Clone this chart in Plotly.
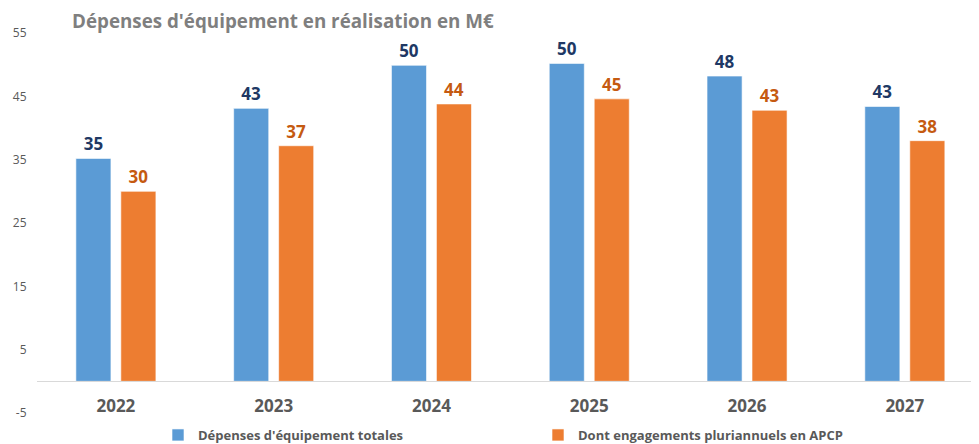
import plotly.graph_objects as go

years = ["2022", "2023", "2024", "2025", "2026", "2027"]
totales = [35.2, 43.1, 49.9, 50.2, 48.2, 43.4]
apcp = [30.0, 37.2, 43.8, 44.6, 42.8, 38.0]
y_ticks = [-5, 5, 15, 25, 35, 45, 55]

name_tot = "Dépenses d'équipement totales"
name_apcp = "Dont engagements pluriannuels en APCP"

FONT = "Open Sans"

fig = go.Figure()
fig.add_trace(go.Bar(
    x=years, y=totales, name=name_tot,
    marker=dict(color="#5B9BD5", line=dict(color="rgba(255,255,255,0.6)", width=1)),
    text=totales, texttemplate="%{y:.0f}", textposition="outside",
    textfont=dict(family=FONT, size=17, color="#203864", weight="bold"),
    cliponaxis=False, legend="legend",
))
fig.add_trace(go.Bar(
    x=years, y=apcp, name=name_apcp,
    marker=dict(color="#ED7D31", line=dict(color="rgba(255,255,255,0.6)", width=1)),
    text=apcp, texttemplate="%{y:.0f}", textposition="outside",
    textfont=dict(family=FONT, size=17, color="#C55A11", weight="bold"),
    cliponaxis=False, legend="legend2",
))

# page body has an 8px margin -> figure drawn at (8, 8)
OFF = 8
W, H = 979 - OFF, 444 - OFF
ml, mr, mt, mb = 37 - OFF, 0, 33 - OFF, 31
pw = W - ml - mr

fig.update_layout(
    width=W, height=H,
    margin=dict(l=ml, r=mr, t=mt, b=mb, autoexpand=False),
    paper_bgcolor="white", plot_bgcolor="white",
    barmode="group", bargap=0.43, bargroupgap=0.22,
    title=dict(
        text="Dépenses d'équipement en réalisation en M€",
        x=(72 - OFF) / W, xref="container", xanchor="left",
        y=1 - (21 - OFF) / H, yref="container", yanchor="middle",
        pad=dict(l=0, r=0, t=0, b=0), automargin=False,
        font=dict(family=FONT, size=18.8, color="#7F7F7F", weight="bold"),
    ),
    xaxis=dict(
        type="category", range=[-0.5, 5.47],
        anchor="free", position=5 / 60,
        showline=True, linecolor="#D9D9D9", linewidth=1,
        ticks="outside", ticklen=9, tickcolor="rgba(0,0,0,0)",
        tickfont=dict(family=FONT, size=17, color="#595959", weight="bold"),
        showgrid=False, zeroline=False, automargin=False,
    ),
    yaxis=dict(
        range=[-5, 55], tickvals=y_ticks, ticktext=[str(v) for v in y_ticks],
        showgrid=False, zeroline=False, showline=False,
        ticks="outside", ticklen=7, tickcolor="rgba(0,0,0,0)",
        tickfont=dict(family=FONT, size=12, color="#595959"),
        automargin=False,
    ),
    legend=dict(
        orientation="h", x=(150 - ml) / pw, xanchor="left",
        y=1 - (435 - OFF) / H, yref="container", yanchor="middle",
        font=dict(family=FONT, size=13, color="#595959", weight="bold"),
        bgcolor="rgba(0,0,0,0)",
    ),
    legend2=dict(
        orientation="h", x=(530 - ml) / pw, xanchor="left",
        y=1 - (435 - OFF) / H, yref="container", yanchor="middle",
        font=dict(family=FONT, size=13, color="#595959", weight="bold"),
        bgcolor="rgba(0,0,0,0)",
    ),
    showlegend=True,
)

fig.write_html("out.html")
